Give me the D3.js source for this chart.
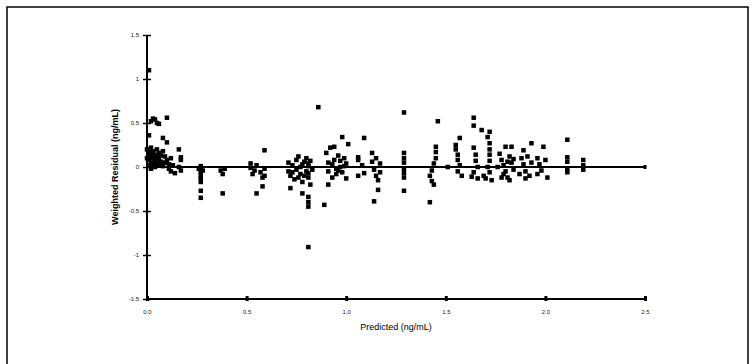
<!DOCTYPE html>
<html>
<head>
<meta charset="utf-8">
<script src="https://cdn.jsdelivr.net/npm/d3@7"></script>
<style>
  body { margin: 0; background: #fff; }
  svg { display: block; font-family: "Liberation Sans", Arial, sans-serif; }
</style>
</head>
<body>
<div id="chart"></div>
<script>
// tick labels
const xTicks = [0, 0.5, 1.0, 1.5, 2.0, 2.5];
const xTickLabels = ["0.0", "0.5", "1.0", "1.5", "2.0", "2.5"];
const yTicks = [1.5, 1, 0.5, 0, -0.5, -1, -1.5];
const yTickLabels = ["1.5", "1", "0.5", "0", "-0.5", "-1", "-1.5"];

// predicted concentration (ng/mL)
const predicted = [
  0.01, 0.01, 0.02, 0.04, 0.05, 0.03, 0.06,
  0.00, 0.01, 0.01, 0.01, 0.02, 0.02, 0.02, 0.02, 0.03, 0.03, 0.03, 0.04, 0.04, 0.04, 0.05, 0.05, 0.05, 0.06, 0.06, 0.07, 0.07, 0.08,
  0.00, 0.01, 0.03, 0.04, 0.06,
  0.10, 0.08, 0.10,
  0.08, 0.09, 0.09, 0.10, 0.11, 0.11, 0.12, 0.12, 0.13, 0.14,
  0.16, 0.17, 0.17, 0.16, 0.17,
  0.27, 0.27, 0.27, 0.27, 0.27, 0.27, 0.27, 0.27, 0.26, 0.28,
  0.37, 0.38, 0.39, 0.38,
  0.52, 0.53, 0.55, 0.57, 0.58, 0.59, 0.59, 0.59, 0.58, 0.55, 0.52, 0.54,
  0.71, 0.71, 0.72, 0.73, 0.74, 0.75, 0.75, 0.76, 0.77, 0.78, 0.78, 0.79, 0.80, 0.80, 0.81, 0.81, 0.82, 0.82, 0.83,
  0.73, 0.77, 0.79, 0.81, 0.81, 0.76,
  0.72, 0.78, 0.81, 0.81, 0.81, 0.81, 0.86, 0.89,
  0.90, 0.91, 0.91, 0.92, 0.93, 0.94, 0.95, 0.95, 0.96, 0.97, 0.98, 0.99, 1.00, 1.00, 0.94, 0.98, 1.01, 0.91,
  0.93, 0.96, 0.99, 0.97,
  1.06, 1.06, 1.06, 1.09, 1.09, 1.08,
  1.13, 1.13, 1.14, 1.15, 1.15, 1.16, 1.17, 1.17, 1.16, 1.14,
  1.29, 1.29, 1.29, 1.29, 1.29, 1.29, 1.29, 1.29,
  1.46, 1.45, 1.45, 1.45, 1.44, 1.43, 1.42, 1.43, 1.44, 1.42,
  1.51,
  1.57, 1.55, 1.56, 1.56, 1.57, 1.56, 1.58, 1.55,
  1.64, 1.64, 1.64, 1.65, 1.65, 1.66, 1.64, 1.66, 1.63,
  1.68, 1.72, 1.71, 1.72, 1.72, 1.72, 1.72, 1.71, 1.72, 1.70, 1.73, 1.69,
  1.80, 1.83, 1.77, 1.78, 1.79, 1.80, 1.81, 1.82, 1.83, 1.84, 1.78, 1.76, 1.82,
  1.79, 1.81, 1.84,
  1.89, 1.93, 1.88, 1.89, 1.90, 1.91, 1.92, 1.93, 1.87, 1.90,
  1.99, 1.96, 1.97, 1.98, 2.00, 2.01, 1.96,
  2.11, 2.11, 2.11, 2.11, 2.11,
  2.19, 2.19, 2.19
];

// weighted residual (ng/mL), same order as predicted
const residual = [
  1.10, 0.36, 0.52, 0.54, 0.50, 0.55, 0.49,
  0.20, 0.15, 0.08, 0.02, 0.22, 0.12, 0.05, -0.02, 0.18, 0.10, 0.03, 0.14, 0.07, 0.00, 0.20, 0.11, 0.04, 0.09, 0.02, 0.13, 0.06, 0.01,
  0.10, 0.17, 0.14, 0.04, 0.16,
  0.56, 0.33, 0.28,
  0.18, 0.12, 0.05, 0.08, -0.02, 0.03, 0.10, -0.05, 0.02, -0.07,
  0.20, 0.11, 0.08, 0.00, -0.04,
  0.01, -0.03, -0.06, -0.10, -0.13, -0.17, -0.27, -0.35, -0.02, -0.04,
  -0.04, -0.08, -0.02, -0.30,
  0.04, -0.08, 0.02, -0.06, -0.12, -0.02, -0.10, 0.19, -0.22, -0.30, -0.01, -0.04,
  0.05, -0.05, -0.10, 0.02, -0.14, 0.08, -0.03, 0.12, -0.08, 0.03, -0.17, 0.06, -0.05, 0.10, -0.12, 0.01, 0.07, -0.20, -0.03,
  -0.06, 0.00, -0.10, 0.04, -0.07, -0.12,
  -0.24, -0.30, -0.34, -0.40, -0.45, -0.91, 0.68, -0.43,
  0.16, 0.05, -0.05, 0.22, -0.12, 0.08, -0.02, -0.08, 0.13, 0.00, -0.06, 0.10, -0.13, 0.04, 0.23, 0.34, 0.26, -0.20,
  0.03, -0.04, 0.01, 0.07,
  0.11, 0.08, -0.10, 0.33, -0.07, 0.02,
  0.16, 0.06, -0.03, 0.10, -0.10, -0.15, 0.04, -0.06, -0.26, -0.39,
  0.62, 0.16, 0.10, 0.05, -0.02, -0.07, -0.12, -0.27,
  0.52, 0.23, 0.17, 0.10, 0.04, -0.04, -0.10, -0.16, -0.20, -0.40,
  0.00,
  0.33, 0.20, 0.14, 0.08, 0.02, -0.05, -0.10, 0.25,
  0.56, 0.47, 0.22, 0.14, 0.07, 0.00, -0.06, -0.13, -0.11,
  0.42, 0.40, 0.34, 0.27, 0.20, 0.14, 0.07, 0.00, -0.06, -0.13, -0.15, -0.10,
  0.23, 0.23, 0.15, 0.08, 0.02, -0.05, -0.12, 0.12, 0.05, -0.03, -0.12, 0.00, -0.15,
  -0.08, 0.06, 0.09,
  0.19, 0.27, 0.10, 0.03, -0.05, 0.12, -0.10, 0.05, -0.08, -0.13,
  0.23, 0.10, 0.03, -0.04, 0.08, -0.12, -0.08,
  0.31, 0.11, 0.06, -0.02, -0.06,
  0.08, -0.03, 0.02
];

const width = 752, height = 364;
const margin = { left: 147, right: 107, top: 35, bottom: 65 };
const markSize = 4.5;

const svg = d3.select("#chart").append("svg")
  .attr("width", width)
  .attr("height", height);

// outer frame
svg.append("rect")
  .attr("x", 7).attr("y", 7)
  .attr("width", 741).attr("height", 380)
  .attr("fill", "none")
  .attr("stroke", "#000")
  .attr("stroke-width", 1.5);

const x = d3.scaleLinear().domain([0, 2.5]).range([margin.left, width - margin.right]);
const y = d3.scaleLinear().domain([-1.5, 1.5]).range([height - margin.bottom, margin.top]);

// y axis
const yAxis = svg.append("g")
  .attr("transform", `translate(${x(0)},0)`)
  .call(d3.axisLeft(y).tickValues(yTicks).tickSize(4)
    .tickFormat((d, i) => yTickLabels[i]));
yAxis.select(".domain").attr("stroke-width", 2).attr("d", `M0,${y(1.5)}V${y(-1.5)}`);
yAxis.selectAll(".tick line").attr("x1", -4).attr("x2", 4).attr("stroke-width", 1.5);
yAxis.selectAll(".tick text").attr("x", -8).style("font-size", "6px").attr("fill", "#222");

// x axis
const xAxis = svg.append("g")
  .attr("transform", `translate(0,${y(-1.5)})`)
  .call(d3.axisBottom(x).tickValues(xTicks).tickSize(3)
    .tickFormat((d, i) => xTickLabels[i]));
xAxis.select(".domain").attr("stroke-width", 2).attr("d", `M${x(0)},0H${x(2.5)}`);
xAxis.selectAll(".tick line").attr("y1", -3).attr("y2", 2).attr("stroke-width", 3);
xAxis.selectAll(".tick text").attr("y", 11).style("font-size", "6px").attr("fill", "#222");

// zero reference line
svg.append("line")
  .attr("x1", x(0)).attr("x2", x(2.5))
  .attr("y1", y(0)).attr("y2", y(0))
  .attr("stroke", "#000").attr("stroke-width", 1.8);
svg.append("rect")
  .attr("x", x(2.5) - 1.5).attr("y", y(0) - 2)
  .attr("width", 3).attr("height", 4)
  .attr("fill", "#000");

// points
const pts = predicted.map((p, i) => [p, residual[i]]);
svg.append("g")
  .selectAll("rect")
  .data(pts)
  .join("rect")
  .attr("x", d => x(d[0]) - markSize / 2)
  .attr("y", d => y(d[1]) - markSize / 2)
  .attr("width", markSize)
  .attr("height", markSize)
  .attr("fill", "#000");

// axis titles
svg.append("text")
  .attr("x", (x(0) + x(2.5)) / 2)
  .attr("y", 330)
  .attr("text-anchor", "middle")
  .style("font-size", "9px")
  .text("Predicted (ng/mL)");

svg.append("text")
  .attr("transform", `translate(118,${y(0)}) rotate(-90)`)
  .attr("text-anchor", "middle")
  .style("font-size", "9px")
  .style("font-weight", "bold")
  .text("Weighted Residual (ng/mL)");
</script>
</body>
</html>
